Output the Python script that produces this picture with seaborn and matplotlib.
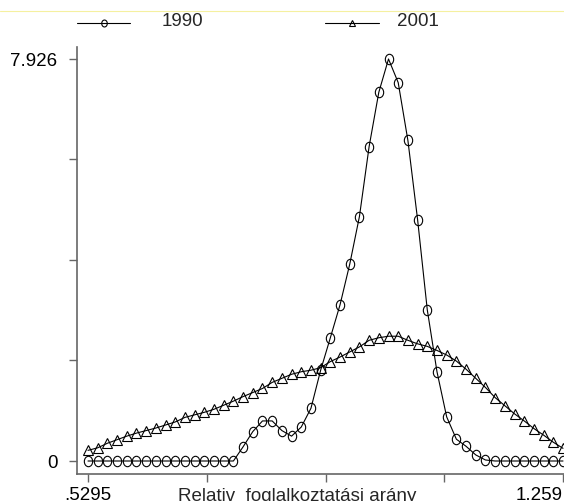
import numpy as np
import pandas as pd
import matplotlib
matplotlib.use("Agg")
import matplotlib.pyplot as plt
from matplotlib.path import Path
from matplotlib.lines import Line2D
import seaborn as sns

# kernel density estimates, 50 evaluation points
x_min, x_max = 0.5295, 1.259
n_points = 50
dens_1990 = [0, 0, 0, 0, 0, 0, 0, 0, 0, 0,
             0, 0, 0, 0, 0, 0, 0.28, 0.58, 0.79, 0.79,
             0.60, 0.49, 0.67, 1.04, 1.79, 2.43, 3.08, 3.88, 4.82, 6.20,
             7.27, 7.926, 7.46, 6.32, 4.76, 2.98, 1.76, 0.87, 0.43, 0.29,
             0.12, 0.02, 0, 0, 0, 0, 0, 0, 0, 0]
dens_2001 = [0.21, 0.26, 0.35, 0.42, 0.49, 0.55, 0.60, 0.65, 0.71, 0.77,
             0.86, 0.91, 0.96, 1.02, 1.10, 1.18, 1.27, 1.35, 1.43, 1.55,
             1.63, 1.71, 1.76, 1.79, 1.84, 1.96, 2.05, 2.15, 2.25, 2.38,
             2.43, 2.46, 2.46, 2.38, 2.31, 2.26, 2.18, 2.09, 1.97, 1.81,
             1.63, 1.45, 1.25, 1.09, 0.93, 0.79, 0.64, 0.51, 0.37, 0.25]
years = ["1990", "2001"]
x_ticklabels = [".5295", "", "", "", "1.259"]
y_ticklabels = ["0", "", "", "", "7.926"]
xlabel = "Relativ  foglalkoztatási arány"

grid = np.linspace(x_min, x_max, n_points)
df = pd.DataFrame({"x": np.concatenate([grid, grid]),
                   "y": dens_1990 + dens_2001,
                   "year": [years[0]] * n_points + [years[1]] * n_points})

sns.set_style("white")
plt.rcParams["font.family"] = ["Liberation Sans", "DejaVu Sans"]
fs = 13.5

# slightly tall ellipse like the Stata circle symbol
circ = Path.unit_circle()
ellipse = Path(circ.vertices * np.array([0.8, 1.0]), circ.codes)
marks = {"1990": (ellipse, 7.5), "2001": ("^", 6.5)}

W, H = 564, 502
fig = plt.figure(figsize=(W / 100, H / 100), dpi=100)
ax = fig.add_axes([77 / W, 27 / H, 1 - 77 / W, (475 - 48) / H])

for yr in years:
    m, ms = marks[yr]
    sns.lineplot(data=df[df["year"] == yr], x="x", y="y", ax=ax, color="black",
                 lw=0.8, marker=m, markersize=ms, mfc="none", mec="black",
                 mew=0.8, clip_on=False, legend=False)

step = (x_max - x_min) / 475
ax.set_xlim(x_min - 11 * step, x_max + 1 * step)
ax.set_ylim(-13 / 50.72, (462 - 48) / 50.72)

ax.set_xticks(np.linspace(x_min, x_max, 5))
ax.set_xticklabels(x_ticklabels)
ax.get_xticklabels()[-1].set_horizontalalignment("right")
ax.set_yticks(np.linspace(0, 7.926, 5))
ax.set_yticklabels(y_ticklabels)
ax.tick_params(axis="both", direction="out", length=6, width=1,
               color="#666666", labelsize=fs, labelcolor="black",
               bottom=True, left=True)
ax.tick_params(axis="y", pad=8)
ax.tick_params(axis="x", pad=3)
ax.set_xlabel("")
ax.set_ylabel("")
for s in ["top", "right"]:
    ax.spines[s].set_visible(False)
for s in ["left", "bottom"]:
    ax.spines[s].set_color("#666666")
    ax.spines[s].set_linewidth(1.2)

fig.text(297 / W, 1 - 488 / H, xlabel, ha="center", va="top", fontsize=fs)

# key above the plot: (line start, line end, text start) in pixels
key_pos = {"1990": (77, 130, 162), "2001": (325, 379, 397)}
ky = 1 - 24 / H
for yr in years:
    x0, x1, xt = key_pos[yr]
    fig.add_artist(Line2D([x0 / W, x1 / W], [ky, ky], color="black", lw=0.8,
                          transform=fig.transFigure))
    fig.add_artist(Line2D([(x0 + x1) / 2 / W], [ky], marker=marks[yr][0],
                          markersize=5, mfc="none", mec="black", mew=0.8,
                          transform=fig.transFigure))
    fig.text(xt / W, ky + 3 / H, yr, ha="left", va="center", fontsize=fs)

# faint page line from the original crop
fig.add_artist(Line2D([0, 1], [1 - 12 / H, 1 - 12 / H],
                      color="#f5f0a0", lw=0.8, transform=fig.transFigure))

fig.savefig("out.png", dpi=100)
